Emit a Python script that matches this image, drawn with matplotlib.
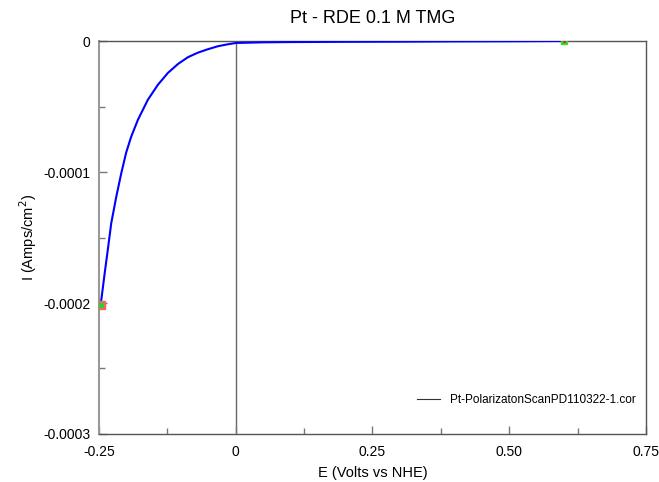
import matplotlib
matplotlib.use("Agg")
import matplotlib.pyplot as plt
from matplotlib.ticker import MultipleLocator

plt.rcParams['font.family'] = ['Liberation Sans', 'DejaVu Sans']

# polarization scan
potential = [-0.2469, -0.2396, -0.2336, -0.2276, -0.2184, -0.2093, -0.2002,
             -0.1911, -0.1788, -0.1606, -0.1423, -0.1241, -0.1058, -0.0876,
             -0.0693, -0.0511, -0.0328, -0.0146, 0.0, 0.05, 0.10, 0.20, 0.30,
             0.40, 0.50, 0.60]
current = [-0.0002015, -0.0001773, -0.0001585, -0.0001391, -0.0001189,
           -0.0001010, -0.0000850, -0.0000730, -0.0000601, -0.0000448,
           -0.0000334, -0.0000244, -0.0000176, -0.0000124, -0.0000089,
           -0.0000063, -0.0000040, -0.0000025, -0.0000015, -0.0000010,
           -0.0000008, -0.0000006, -0.0000005, -0.0000003, -0.0000002, 0.0]
start_point = (potential[0], current[0])
end_point = (potential[-1], current[-1])

xticks = [-0.25, 0, 0.25, 0.50, 0.75]
xtick_labels = ['-0.25', '0', '0.25', '0.50', '0.75']
yticks = [0, -0.0001, -0.0002, -0.0003]
ytick_labels = ['0', '-0.0001', '-0.0002', '-0.0003']

fig = plt.figure(figsize=(6.59, 4.82), dpi=100)
ax = fig.add_axes([0.1502, 0.0996, 0.8301, 0.8153])

ax.plot(potential, current, color='#0000ff', linewidth=1.5, zorder=3,
        solid_joinstyle='round')
ax.axvline(0, color='#666666', linewidth=1.0, zorder=1)

# start/end markers
ax.plot(*start_point, marker='s', markersize=5.5, color='#ff6060',
        linestyle='none', zorder=4)
ax.plot(*start_point, marker='s', markersize=3, color='#33cc33',
        linestyle='none', zorder=5)
ax.plot(*end_point, marker='s', markersize=5, color='#33dd33',
        linestyle='none', zorder=4)
ax.plot(*end_point, marker='s', markersize=2, color='#cc3333',
        linestyle='none', zorder=5)

# legend entry (dummy line)
ax.plot([], [], color='#333333', linewidth=0.8,
        label='Pt-PolarizatonScanPD110322-1.cor')
ax.legend(loc='lower right', frameon=False, fontsize=8.5,
          handlelength=2.0, handletextpad=0.8, bbox_to_anchor=(1.0, 0.045))

ax.set_xlim(-0.25, 0.75)
ax.set_ylim(-0.0003, 0)
ax.set_xticks(xticks)
ax.set_xticklabels(xtick_labels)
ax.set_yticks(yticks)
ax.set_yticklabels(ytick_labels)
ax.xaxis.set_minor_locator(MultipleLocator(0.125))
ax.yaxis.set_minor_locator(MultipleLocator(0.00005))

ax.tick_params(axis='both', which='major', direction='in', length=6,
               width=1, color='#777777', labelsize=10)
ax.tick_params(axis='x', which='major', pad=8)
ax.tick_params(axis='y', which='major', pad=6)
ax.tick_params(axis='both', which='minor', direction='in', length=4,
               width=1, color='#777777')

for side in ['top', 'right', 'bottom']:
    ax.spines[side].set_color('#555555')
    ax.spines[side].set_linewidth(1.0)
ax.spines['left'].set_color('#999999')
ax.spines['left'].set_linewidth(1.5)

ax.set_title('Pt - RDE 0.1 M TMG', fontsize=13, pad=13)
ax.set_xlabel('E (Volts vs NHE)', fontsize=10.5, labelpad=5)
ax.set_ylabel('I (Amps/cm$^2$)', fontsize=10.5, labelpad=3)

fig.savefig('out.png', dpi=100)
